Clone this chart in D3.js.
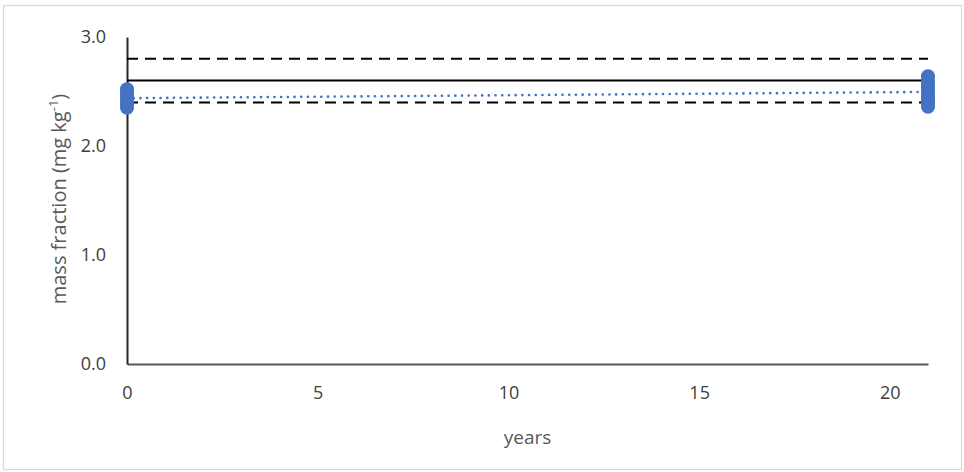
<!DOCTYPE html>
<html>
<head>
<meta charset="utf-8">
<script src="https://cdn.jsdelivr.net/npm/d3@7"></script>
<style>
  html, body { margin: 0; padding: 0; background: #fff; }
  svg text { font-family: "Open Sans", "Liberation Sans", sans-serif; }
</style>
</head>
<body>
<svg id="chart" width="964" height="472"></svg>
<script>
// Measured mass fractions at the start and after 21 years
const years0 = [0, 0, 0, 0, 0, 0, 0];
const values0 = [2.35, 2.38, 2.41, 2.44, 2.47, 2.50, 2.52];
const years21 = [21, 21, 21, 21, 21, 21, 21, 21, 21, 21];
const values21 = [2.36, 2.39, 2.42, 2.45, 2.48, 2.51, 2.54, 2.57, 2.60, 2.64];

// Certified value and its uncertainty bounds
const certified = 2.6;
const upperBound = 2.8;
const lowerBound = 2.4;

const xTicks = [0, 5, 10, 15, 20];
const yTicks = [0.0, 1.0, 2.0, 3.0];
const xDomain = [0, 21];
const yDomain = [0, 3];

const svg = d3.select("#chart");
const W = 964, H = 472;
const m = { left: 127, right: 36, top: 37, bottom: 108 };

// outer frame
svg.append("rect")
  .attr("x", 3.5).attr("y", 5.5)
  .attr("width", W - 6).attr("height", H - 8)
  .attr("fill", "#fff").attr("stroke", "#d9d9d9").attr("stroke-width", 1.2);

const x = d3.scaleLinear().domain(xDomain).range([m.left, W - m.right]);
const y = d3.scaleLinear().domain(yDomain).range([H - m.bottom, m.top]);

// axes
const xAxis = d3.axisBottom(x).tickValues(xTicks).tickSize(0).tickPadding(22).tickFormat(d3.format("d"));
const gx = svg.append("g").attr("transform", `translate(0,${y(0)})`).call(xAxis);
gx.select(".domain").attr("stroke", "#595959").attr("stroke-width", 2);
gx.selectAll("text").attr("font-size", 18).attr("fill", "#404040");

const yAxis = d3.axisLeft(y).tickValues(yTicks).tickSize(0).tickPadding(21).tickFormat(d3.format(".1f"));
const gy = svg.append("g").attr("transform", `translate(${x(0)},0)`).call(yAxis);
gy.select(".domain").attr("stroke", "#262626").attr("stroke-width", 2);
gy.selectAll("text").attr("font-size", 18).attr("fill", "#404040");

// axis titles
svg.append("text")
  .attr("x", x(10.5)).attr("y", 444)
  .attr("text-anchor", "middle").attr("font-size", 19).attr("fill", "#595959")
  .text("years");

const yt = svg.append("text")
  .attr("transform", `translate(66,199) rotate(-90)`)
  .attr("text-anchor", "middle").attr("font-size", 20).attr("fill", "#595959");
yt.append("tspan").text("mass fraction (mg kg");
yt.append("tspan").attr("font-size", 13).attr("dy", -8).text("-1");
yt.append("tspan").attr("dy", 8).text(")");

// reference lines
const refLine = (v, dash) => svg.append("line")
  .attr("x1", x(xDomain[0])).attr("x2", x(xDomain[1]))
  .attr("y1", y(v)).attr("y2", y(v))
  .attr("stroke", "#000").attr("stroke-width", 2)
  .attr("stroke-dasharray", dash);
refLine(upperBound, "11,7");
refLine(certified, null);
refLine(lowerBound, "11,7");

// linear trend through all measurements
const xs = years0.concat(years21);
const ys = values0.concat(values21);
const mx = d3.mean(xs), my = d3.mean(ys);
const slope = d3.sum(xs, (d, i) => (d - mx) * (ys[i] - my)) / d3.sum(xs, d => (d - mx) * (d - mx));
const icpt = my - slope * mx;
svg.append("line")
  .attr("x1", x(xDomain[0])).attr("x2", x(xDomain[1]))
  .attr("y1", y(icpt + slope * xDomain[0]))
  .attr("y2", y(icpt + slope * xDomain[1]))
  .attr("stroke", "#4472c4").attr("stroke-width", 2.6)
  .attr("stroke-linecap", "round").attr("stroke-dasharray", "0.1,6.6");

// data points
const pts = xs.map((d, i) => ({ x: d, y: ys[i] }));
svg.append("g").selectAll("circle").data(pts).join("circle")
  .attr("cx", d => x(d.x)).attr("cy", d => y(d.y))
  .attr("r", 7).attr("fill", "#4472c4");
</script>
</body>
</html>
